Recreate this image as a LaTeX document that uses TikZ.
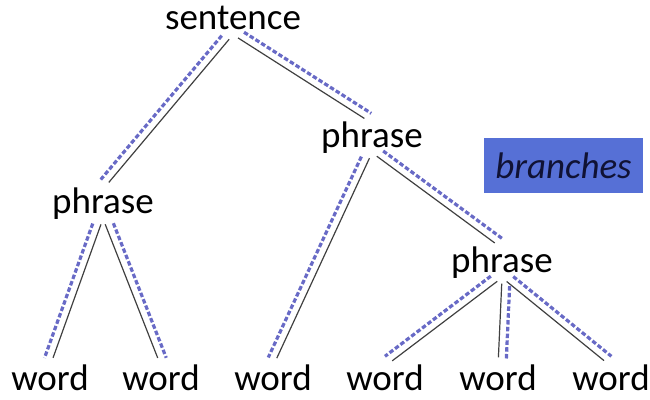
\documentclass[tikz,border=0pt]{standalone}
\usepackage{fontspec}
\setmainfont{Carlito}
\usetikzlibrary{calc}

\definecolor{trace}{RGB}{104,106,198}
\definecolor{tagblue}{RGB}{86,112,214}
\definecolor{tagtext}{RGB}{16,18,52}

\begin{document}
\begin{tikzpicture}[x=1pt,y=-1pt]
\tikzstyle{treenode} = [font=\fontsize{37}{40}\selectfont, text height=22pt,
text depth=3pt, inner xsep=2pt, inner ysep=2pt]
\tikzstyle{branch} = [draw=black!75, line width=1.2pt, shorten <=6pt, shorten >=9pt];
\tikzstyle{tracebase} = [draw=trace, line width=3.2pt, dash pattern=on 4.5pt off 2.3pt,
shorten <=8pt, shorten >=6pt]
\tikzstyle{traceL} = [tracebase, to path={($(\tikztostart)!8pt!-90:(\tikztotarget)$)
-- ($(\tikztotarget)!8pt!90:(\tikztostart)$)}]
\tikzstyle{traceR} = [tracebase, to path={($(\tikztostart)!-8pt!-90:(\tikztotarget)$)
-- ($(\tikztotarget)!-8pt!90:(\tikztostart)$)}]
\tikzstyle{callout} = [rectangle, fill=tagblue, text=tagtext, minimum width=159pt,
minimum height=55pt, font=\fontsize{37}{40}\selectfont\itshape]

\useasboundingbox (0,0) rectangle (650,399);

% tree
\node [treenode] (sentence) at (233,20) {sentence};
\node [treenode] (phraseL) at (103,204) {phrase};
\node [treenode] (phraseR) at (372,138) {phrase};
\node [treenode] (phraseRR) at (502,263) {phrase};
\node [treenode] (word1) at (50,381) {word};
\node [treenode] (word2) at (161,381) {word};
\node [treenode] (word3) at (273,381) {word};
\node [treenode] (word4) at (385,381) {word};
\node [treenode] (word5) at (498,381) {word};
\node [treenode] (word6) at (611,381) {word};

\node [callout] (tag) at (563.5,165.5) {branches};

% solid branches
\path [branch] (sentence.south) -- (phraseL.north);
\path [branch] (sentence.south) -- (phraseR.north);
\path [branch] (phraseL.south) -- (word1.north);
\path [branch] (phraseL.south) -- (word2.north);
\path [branch] (phraseR.south) -- (word3.north);
\path [branch] (phraseR.south) -- (phraseRR.north);
\path [branch] (phraseRR.south) -- (word4.north);
\path [branch] (phraseRR.south) -- (word5.north);
\path [branch] (phraseRR.south) -- (word6.north);

% dashed traces beside them
\path (sentence.south) edge [traceL] (phraseL.north);
\path (sentence.south) edge [traceR] (phraseR.north);
\path (phraseL.south) edge [traceL] (word1.north);
\path (phraseL.south) edge [traceR] (word2.north);
\path (phraseR.south) edge [traceL] (word3.north);
\path (phraseR.south) edge [traceR] (phraseRR.north);
\path (phraseRR.south) edge [traceL] (word4.north);
\path (phraseRR.south) edge [traceR] (word5.north);
\path (phraseRR.south) edge [traceR] (word6.north);
\end{tikzpicture}
\end{document}
